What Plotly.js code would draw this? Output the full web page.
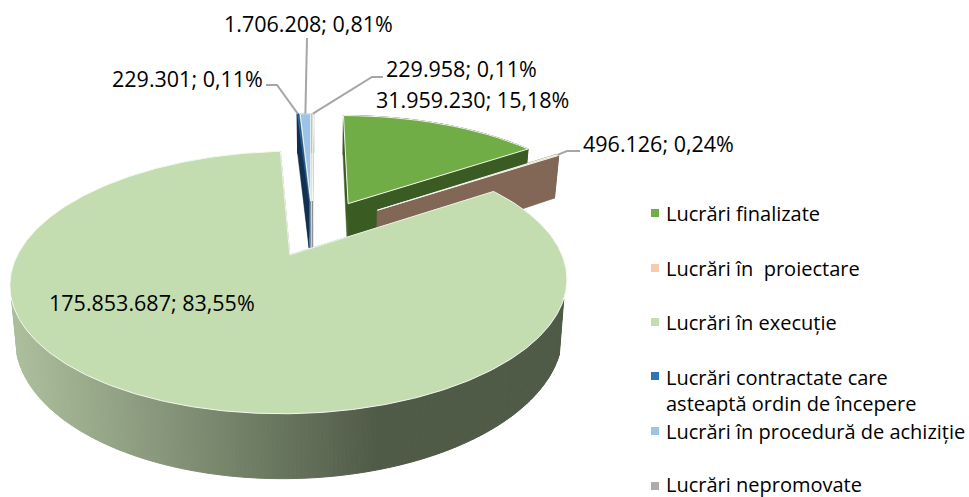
<!DOCTYPE html>
<html><head><meta charset="utf-8">
<script src="https://cdn.plot.ly/plotly-3.0.1.min.js"></script>
<style>html,body{margin:0;padding:0;background:#fff}#c{width:969px;height:497px}</style>
</head><body><div id="c"></div>
<script>
const categories = ["Lucrări finalizate","Lucrări în  proiectare","Lucrări în execuție","Lucrări contractate care<br>asteaptă ordin de începere","Lucrări în procedură de achiziție","Lucrări nepromovate"];
const values = [31959230,496126,175853687,229301,1706208,229958];
const topColors = ["#70ad47","#f8cbad","#c4ddb0","#2e75b6","#9dc3e6","#afabab"];
const wallColors = ["#3a5c22","#826757","#4f5a47","#12304f","#6f8ea8","#8a8888"];
const pulls = [0.25,0.28,0.25,0.25,0.25,0.25];
const pullTilt = [0,0,0,-0.11,-0.11,-0.11];
const drawOrder = [5,4,3,0,1,2];
const labelAnchors = [[376,99],[583,143],[49,302],[112,78],[224,23],[386,68]];
const leaderPaths = [null,[[580,151],[567,151]],null,[[266,85],[277,85]],[[307,38]],[[383,77],[372,77]]];
const legendRows = [213,268,322,376,431,484];

const PROJ = {cx:319.5, cy:228, a:260, b:114.5, k:0.2, depth:49, shrink:0.982};
const total = values.reduce((s,v)=>s+v,0);
const fmtVal = v => String(v).replace(/\B(?=(\d{3})+$)/g,'.');
const fmtPct = v => (v/total*100).toFixed(2).replace('.',',')+'%';

let acc = 0;
const arcs = values.map(v=>{const a0=acc/total*2*Math.PI; acc+=v; return [a0,acc/total*2*Math.PI];});

function project(X,Y){const w=1+PROJ.k*Y; return {x:PROJ.cx+PROJ.a*X/w, y:PROJ.cy-PROJ.b*Y/w, w};}
function lower(p){return {x:PROJ.cx+(p.x-PROJ.cx)*PROJ.shrink, y:p.y+PROJ.depth/p.w, w:p.w};}
function geom(i){
  const [a0,a1]=arcs[i], mid=(a0+a1)/2+pullTilt[i], e=pulls[i];
  const ox=e*Math.sin(mid), oy=e*Math.cos(mid);
  return {a0,a1,apex:project(ox,oy),rim:t=>project(ox+Math.sin(t),oy+Math.cos(t))};
}
const traces=[];
function poly(pts,fill,line,lw){
  traces.push({type:'scatter',mode:'lines',x:pts.concat(pts[0]).map(p=>p.x),y:pts.concat(pts[0]).map(p=>p.y),
    fill:'toself',fillcolor:fill,line:{color:line,width:lw},hoverinfo:'skip',showlegend:false});
}
function mix(c0,c1,t){return 'rgb('+c0.map((c,j)=>Math.round(c+(c1[j]-c)*t)).join(',')+')';}
drawOrder.forEach(i=>{
  const g=geom(i), span=g.a1-g.a0, step=i===2?0.012:0.06, n=Math.max(4,Math.ceil(span/step));
  const rimPts=[]; for(let s=0;s<=n;s++) rimPts.push(g.rim(g.a0+span*s/n));
  const wc=wallColors[i];
  [rimPts[0],rimPts[n]].forEach(r=>poly([g.apex,r,lower(r),lower(g.apex)],wc,wc,0.5));
  for(let s=0;s<n;s++){
    const p=rimPts[s],q=rimPts[s+1];
    let c=wc;
    if(i===2){
      if(p.y<300 && q.y<300) continue;
      const t=Math.max(0,Math.min(1,((p.x+q.x)/2-15)/365)); c=mix([172,190,156],[79,90,71],t);
    }
    poly([p,q,lower(q),lower(p)],c,c,1);
  }
  poly([g.apex].concat(rimPts),topColors[i],i===3?'#1d4f80':'#f4f8f0',i===3?0.4:1);
});
leaderPaths.forEach((path,i)=>{
  if(!path) return;
  const g=geom(i), end=g.rim((g.a0+g.a1)/2);
  const pts=path.map(p=>({x:p[0],y:p[1]})).concat(end);
  traces.push({type:'scatter',mode:'lines',x:pts.map(p=>p.x),y:pts.map(p=>p.y),line:{color:'#a6a6a6',width:2},hoverinfo:'skip',showlegend:false});
});
traces.push({type:'scatter',mode:'markers',x:categories.map(()=>655),y:legendRows.map((y,i)=>i===5?486:y),
  marker:{symbol:'square',size:8,color:topColors},hoverinfo:'skip',showlegend:false});

const FONT='"Open Sans", sans-serif';
const annotations=[];
values.forEach((v,i)=>annotations.push({x:labelAnchors[i][0],y:labelAnchors[i][1],xref:'x',yref:'y',xanchor:'left',yanchor:'middle',
  showarrow:false,text:fmtVal(v)+'; '+fmtPct(v),font:{family:FONT,size:21.5,color:'#000'},borderpad:0,xshift:-1}));
categories.forEach((c,i)=>annotations.push({x:666,y:legendRows[i],xref:'x',yref:'y',xanchor:'left',yanchor:i===3?'top':'middle',yshift:i===3?13:0,
  align:'left',showarrow:false,text:c,font:{family:FONT,size:20,color:'#000'},borderpad:0,xshift:-1}));

Plotly.newPlot('c',traces,{
  width:969,height:497,margin:{l:0,r:0,t:0,b:0},paper_bgcolor:'#fff',plot_bgcolor:'#fff',showlegend:false,
  xaxis:{range:[0,969],visible:false,fixedrange:true},
  yaxis:{range:[497,0],visible:false,fixedrange:true},
  annotations
},{displayModeBar:false,staticPlot:true});
</script></body></html>
